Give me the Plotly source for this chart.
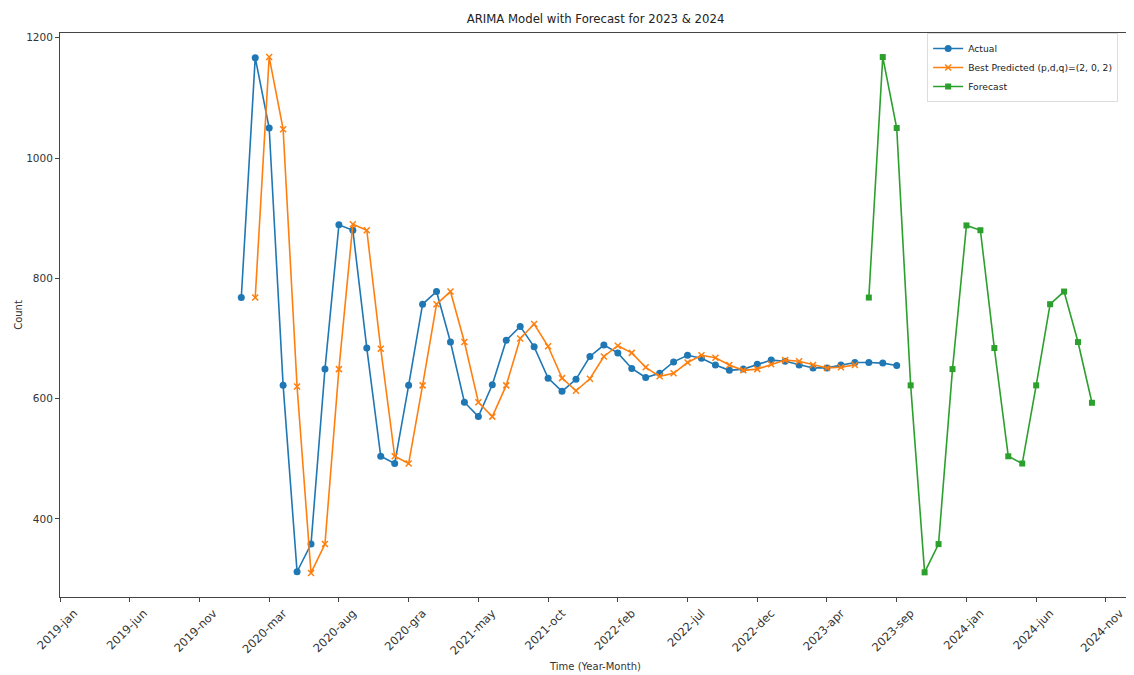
import plotly.graph_objects as go

# Month index relative to 2019-jan (0 = 2019-jan)
tick_positions = [0, 5, 10, 15, 20, 25, 30, 35, 40, 45, 50, 55, 60, 65, 70, 75]
tick_labels = ["2019-jan", "2019-jun", "2019-nov", "2020-mar", "2020-aug", "2020-gra",
               "2021-may", "2021-oct", "2022-feb", "2022-jul", "2022-dec", "2023-apr",
               "2023-sep", "2024-jan", "2024-jun", "2024-nov"]

actual_start = 13
actual_values = [768, 1167, 1050, 622, 312, 358, 649, 889, 880, 684, 504, 492, 622, 757,
                 778, 694, 594, 570, 623, 697, 720, 686, 634, 612, 632, 670, 689, 676,
                 650, 635, 642, 661, 672, 667, 656, 647, 649, 657, 664, 662, 656, 651,
                 651, 656, 660, 660, 659, 655]

predicted_start = 14
predicted_values = [768, 1168, 1048, 620, 310, 358, 649, 890, 880, 683, 504, 492, 622, 757,
                    778, 694, 594, 570, 622, 700, 724, 687, 634, 613, 633, 670, 688, 676,
                    652, 637, 642, 660, 672, 668, 656, 647, 649, 657, 664, 662, 656, 651,
                    652, 656]

forecast_start = 58
forecast_values = [768, 1168, 1050, 622, 311, 358, 649, 888, 880, 684, 504, 492, 622, 757,
                   778, 694, 593]

actual_x = list(range(actual_start, actual_start + len(actual_values)))
predicted_x = list(range(predicted_start, predicted_start + len(predicted_values)))
forecast_x = list(range(forecast_start, forecast_start + len(forecast_values)))

BLUE = "#1f77b4"
ORANGE = "#ff7f0e"
GREEN = "#2ca02c"
FONT = "DejaVu Sans"

fig = go.Figure()
fig.add_trace(go.Scatter(
    x=actual_x, y=actual_values, mode="lines+markers", name="Actual",
    line=dict(color=BLUE, width=1.6),
    marker=dict(symbol="circle", size=7, color=BLUE)))
fig.add_trace(go.Scatter(
    x=predicted_x, y=predicted_values, mode="lines+markers",
    name="Best Predicted (p,d,q)=(2, 0, 2)",
    line=dict(color=ORANGE, width=1.6),
    marker=dict(symbol="x-thin", size=6, color=ORANGE, line=dict(color=ORANGE, width=1.5))))
fig.add_trace(go.Scatter(
    x=forecast_x, y=forecast_values, mode="lines+markers", name="Forecast",
    line=dict(color=GREEN, width=1.6),
    marker=dict(symbol="square", size=6, color=GREEN)))

# the page body adds an 8px offset, so the figure is sized to compensate
W, H = 1126, 667
axis_color = "#444444"
fig.update_layout(
    width=W, height=H,
    margin=dict(l=52, r=3, t=25, b=78, autoexpand=False),
    paper_bgcolor="white", plot_bgcolor="white",
    font=dict(family=FONT, size=11, color="#333333"),
    title=dict(text="ARIMA Model with Forecast for 2023 & 2024", x=0.5, xref="paper",
               xanchor="center", y=1 - 11 / H, yanchor="middle",
               font=dict(family=FONT, size=11.7, color="#222222")),
    showlegend=True,
    legend=dict(x=0.988, y=1.0, xanchor="right", yanchor="top",
                bgcolor="rgba(255,255,255,0.8)", bordercolor="#dddddd", borderwidth=1,
                font=dict(family=FONT, size=9.2, color="#222222"),
                tracegroupgap=0, itemwidth=30),
)
fig.update_xaxes(
    range=[0, 76.8], tickmode="array", tickvals=tick_positions, ticktext=tick_labels,
    tickangle=-45, ticks="outside", ticklen=4, tickcolor=axis_color,
    tickfont=dict(family=FONT, size=11.5, color="#333333"),
    ticklabelshift=14,
    showline=True, linecolor=axis_color, linewidth=1, mirror=True,
    showgrid=False, zeroline=False, automargin=False,
    title=dict(text="Time (Year-Month)", standoff=6, font=dict(family=FONT, size=10)),
)
fig.update_yaxes(
    range=[270, 1208], tickvals=[400, 600, 800, 1000, 1200],
    ticks="outside", ticklen=4, tickcolor=axis_color,
    tickfont=dict(family=FONT, size=10.5, color="#333333"),
    showline=True, linecolor=axis_color, linewidth=1, mirror=True,
    showgrid=False, zeroline=False, automargin=False,
    title=dict(text="Count", standoff=1, font=dict(family=FONT, size=10)),
)

fig.write_html("out.html")
